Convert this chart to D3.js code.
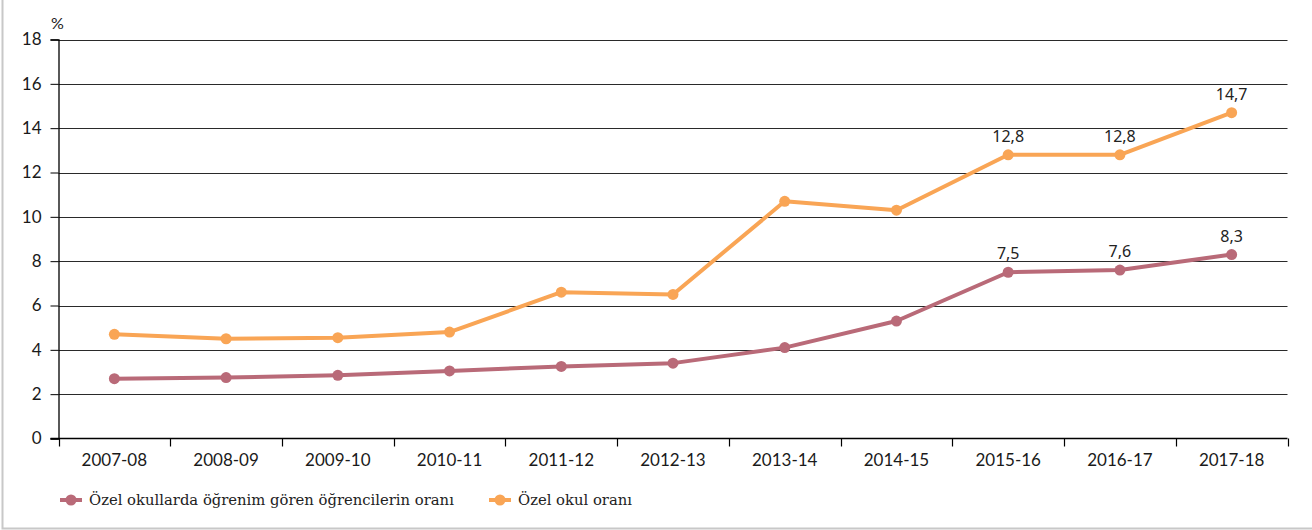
<!DOCTYPE html>
<html>
<head>
<meta charset="utf-8">
<script src="https://cdn.jsdelivr.net/npm/d3@7"></script>
<style>
  html, body { margin: 0; padding: 0; background: #fff; }
  svg { display: block; }
</style>
</head>
<body>
<svg id="chart" width="1312" height="530"></svg>
<script>
// School years on the x axis
const years = ["2007-08", "2008-09", "2009-10", "2010-11", "2011-12", "2012-13",
               "2013-14", "2014-15", "2015-16", "2016-17", "2017-18"];
// Share of students attending private schools (%)
const studentShare = [2.7, 2.75, 2.85, 3.05, 3.25, 3.4, 4.1, 5.3, 7.5, 7.6, 8.3];
// Share of private schools (%)
const schoolShare = [4.7, 4.5, 4.55, 4.8, 6.6, 6.5, 10.7, 10.3, 12.8, 12.8, 14.7];
// Which points carry a value label
const labelledYears = ["2015-16", "2016-17", "2017-18"];
const yTicks = [0, 2, 4, 6, 8, 10, 12, 14, 16, 18];
const seriesNames = ["Özel okullarda öğrenim gören öğrencilerin oranı", "Özel okul oranı"];

const svg = d3.select("#chart");
const plotLeft = 58.5, plotRight = 1287.5, plotTop = 39.5, plotBottom = 438.5;
const axisFont = "Lato, 'Open Sans', sans-serif";

const x = d3.scaleBand().domain(years).range([plotLeft, plotRight]);
const y = d3.scaleLinear().domain([0, 18]).range([plotBottom, plotTop]);

// outer frame (left and bottom edges)
svg.append("path")
  .attr("d", "M2.5,0 V528.5 H1312")
  .attr("fill", "none").attr("stroke", "#c8c8c8").attr("stroke-width", 2);

// horizontal gridlines
svg.append("g")
  .selectAll("line").data(yTicks.filter(d => d > 0)).join("line")
  .attr("x1", plotLeft).attr("x2", plotRight)
  .attr("y1", d => Math.round(y(d)) + 0.5).attr("y2", d => Math.round(y(d)) + 0.5)
  .attr("stroke", "#2a2a2a").attr("stroke-width", 1.2);

// y axis
const yAxis = d3.axisLeft(y).tickValues(yTicks).tickSize(8).tickPadding(9).tickFormat(d3.format("d"));
const gy = svg.append("g").attr("transform", `translate(${plotLeft},0)`).call(yAxis);
gy.select(".domain").attr("stroke", "#000").attr("stroke-width", 1.3);
gy.selectAll(".tick line").attr("stroke", "#000");
gy.selectAll("text").attr("font-family", axisFont)
  .attr("font-size", 17).attr("fill", "#1a1a1a");

// x axis: baseline, ticks at category boundaries
svg.append("line").attr("x1", plotLeft - 8).attr("x2", plotRight)
  .attr("y1", plotBottom).attr("y2", plotBottom).attr("stroke", "#000").attr("stroke-width", 1.3);
const bounds = years.map(d => x(d)).concat([plotRight]);
svg.append("g").selectAll("line").data(bounds).join("line")
  .attr("x1", d => Math.round(d) + 0.5).attr("x2", d => Math.round(d) + 0.5)
  .attr("y1", plotBottom).attr("y2", plotBottom + 8)
  .attr("stroke", "#000").attr("stroke-width", 1.2);
svg.append("g").selectAll("text").data(years).join("text")
  .attr("x", d => x(d) + x.bandwidth() / 2).attr("y", 466)
  .attr("text-anchor", "middle")
  .attr("font-family", axisFont).attr("font-size", 17).attr("fill", "#1a1a1a")
  .text(d => d);

// unit label
svg.append("text").attr("x", 51).attr("y", 29)
  .attr("font-family", axisFont).attr("font-size", 16).attr("fill", "#1a1a1a")
  .text("%");

const series = [
  { name: seriesNames[0], values: studentShare, color: "#b96a78" },
  { name: seriesNames[1], values: schoolShare, color: "#f9a555" }
];
const cx = d => x(d) + x.bandwidth() / 2;
const line = d3.line().x(d => cx(d.year)).y(d => y(d.value));

series.forEach(s => {
  const pts = years.map((yr, i) => ({ year: yr, value: s.values[i] }));
  svg.append("path").datum(pts)
    .attr("d", line).attr("fill", "none")
    .attr("stroke", s.color).attr("stroke-width", 4).attr("stroke-linejoin", "round");
  svg.append("g").selectAll("circle").data(pts).join("circle")
    .attr("cx", d => cx(d.year)).attr("cy", d => y(d.value)).attr("r", 5.5)
    .attr("fill", s.color);
  svg.append("g").selectAll("text").data(pts.filter(d => labelledYears.includes(d.year))).join("text")
    .attr("x", d => cx(d.year)).attr("y", d => y(d.value) - 13)
    .attr("text-anchor", "middle")
    .attr("font-family", "'Noto Sans', 'Open Sans', sans-serif").attr("font-size", 16)
    .attr("fill", "#222")
    .text(d => d3.format(".1f")(d.value).replace(".", ","));
});

// legend
const legendX = [60, 489];
series.forEach((s, i) => {
  const g = svg.append("g").attr("transform", `translate(${legendX[i]},500)`);
  g.append("line").attr("x1", 0).attr("x2", 22).attr("y1", 0).attr("y2", 0)
    .attr("stroke", s.color).attr("stroke-width", 4);
  g.append("circle").attr("cx", 11).attr("cy", 0).attr("r", 5.5).attr("fill", s.color);
  g.append("text").attr("x", 29).attr("y", 5)
    .attr("font-family", "'DejaVu Serif', 'Liberation Serif', serif").attr("font-size", 14.8)
    .attr("fill", "#222").text(s.name);
});
</script>
</body>
</html>
